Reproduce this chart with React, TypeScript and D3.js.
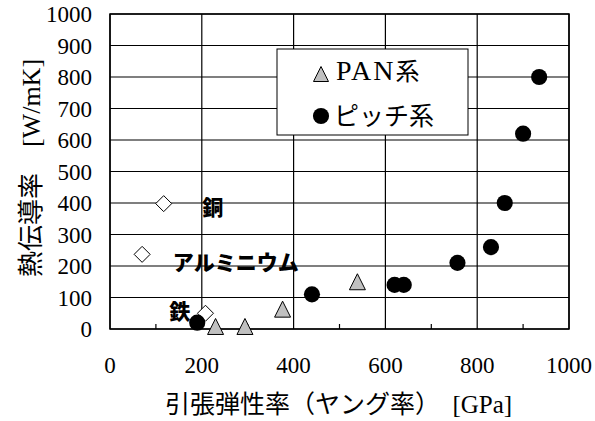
import React from "react";
import * as d3 from "d3";

const metalNames = ["銅", "アルミニウム", "鉄"];
const metalModulus = [117, 70, 208];
const metalConductivity = [398, 237, 50];
const metalLabelX = [224, 274, 152];
const metalLabelY = [384, 210, 54];

const panModulus = [230, 294, 376, 539];
const panConductivity = [8, 8, 63, 150];

const pitchModulus = [190, 440, 620, 640, 757, 830, 860, 900, 935];
const pitchConductivity = [20, 110, 140, 140, 210, 260, 400, 620, 800];

const xTicks = [0, 200, 400, 600, 800, 1000];
const xMinorTicks = [100, 300, 500, 700, 900];
const yTicks = [0, 100, 200, 300, 400, 500, 600, 700, 800, 900, 1000];

const xTitle = "引張弾性率（ヤング率）　[GPa]";
const yTitle = "熱伝導率　[W/mK]";

const W = 595;
const H = 421;
const left = 110;
const right = 569;
const top = 14;
const bottom = 329;

const serif = '"Liberation Serif", "DejaVu Serif", "Times New Roman", "Noto Sans CJK JP", serif';
const gothic = '"Noto Sans CJK JP", sans-serif';

const diamondPath = (r: number) => {
  const p = d3.path();
  p.moveTo(0, -r);
  p.lineTo(r, 0);
  p.lineTo(0, r);
  p.lineTo(-r, 0);
  p.closePath();
  return p.toString();
};
const trianglePath = (w: number, h: number) => {
  const p = d3.path();
  p.moveTo(0, -h / 2);
  p.lineTo(w / 2, h / 2);
  p.lineTo(-w / 2, h / 2);
  p.closePath();
  return p.toString();
};

export default function App() {
  const x = d3.scaleLinear().domain([0, 1000]).range([left, right]);
  const y = d3.scaleLinear().domain([0, 1000]).range([bottom, top]);

  const diamond = diamondPath(8);
  const tri = trianglePath(16, 16);
  const circle = d3.symbol().type(d3.symbolCircle).size(205)() as string;

  const serifStyle = { fontFamily: serif };
  const gothicStyle = { fontFamily: gothic, fontWeight: 900 };

  return (
    <svg
      width={W}
      height={H}
      viewBox={`0 0 ${W} ${H}`}
      style={{ position: "absolute", left: 0, top: 0, background: "#fff" }}
    >
      <rect x={0} y={0} width={W} height={H} fill="#fff" />
      {/* grid */}
      {yTicks.map((t) => (
        <line key={"gy" + t} x1={left} x2={right} y1={y(t)} y2={y(t)} stroke="#000" strokeWidth={1.2} />
      ))}
      {xTicks.map((t) => (
        <line key={"gx" + t} x1={x(t)} x2={x(t)} y1={top} y2={bottom} stroke="#000" strokeWidth={1.2} />
      ))}
      {xMinorTicks.map((t) => (
        <line key={"mx" + t} x1={x(t)} x2={x(t)} y1={bottom} y2={bottom - 5} stroke="#000" strokeWidth={1.2} />
      ))}
      <rect x={left} y={top} width={right - left} height={bottom - top} fill="none" stroke="#000" strokeWidth={1.5} />

      {/* tick labels */}
      {yTicks.map((t) => (
        <text key={"ly" + t} x={92} y={y(t)} dy="0.35em" textAnchor="end" style={serifStyle} fontSize={23}>
          {t}
        </text>
      ))}
      {xTicks.map((t) => (
        <text key={"lx" + t} x={x(t)} y={373} textAnchor="middle" style={serifStyle} fontSize={23}>
          {t}
        </text>
      ))}

      {/* axis titles */}
      <text x={x(500) - 1} y={413} textAnchor="middle" style={serifStyle} fontSize={25}>
        {xTitle}
      </text>
      <text
        transform={`translate(40, 168) rotate(-90)`}
        textAnchor="middle"
        style={serifStyle}
        fontSize={26}
      >
        {yTitle}
      </text>

      {/* metals */}
      {metalModulus.map((m, i) => (
        <path key={"m" + i} d={diamond} transform={`translate(${x(m)},${y(metalConductivity[i])})`} fill="#fff" stroke="#000" strokeWidth={1} />
      ))}
      {/* PAN */}
      {panModulus.map((m, i) => (
        <path key={"p" + i} d={tri} transform={`translate(${x(m)},${y(panConductivity[i])})`} fill="#c0c0c0" stroke="#000" strokeWidth={1} />
      ))}
      {/* pitch */}
      {pitchModulus.map((m, i) => (
        <path key={"c" + i} d={circle} transform={`translate(${x(m)},${y(pitchConductivity[i])})`} fill="#000" />
      ))}

      {/* metal labels */}
      {metalNames.map((n, i) => (
        <text
          key={"n" + i}
          x={x(metalLabelX[i])}
          y={y(metalLabelY[i])}
          dy="0.35em"
          textAnchor="middle"
          style={gothicStyle}
          fontSize={21}
        >
          {n}
        </text>
      ))}

      {/* legend */}
      <rect x={277} y={49} width={191} height={86} fill="#fff" stroke="#000" strokeWidth={1} />
      <path d={trianglePath(15, 15)} transform="translate(321,74)" fill="#c0c0c0" stroke="#000" strokeWidth={1} />
      <text x={336} y={74} dy="0.35em" style={serifStyle}>
        <tspan fontSize={28} letterSpacing={2}>PAN</tspan>
        <tspan fontSize={24}>系</tspan>
      </text>
      <path d={circle} transform="translate(321,116)" fill="#000" />
      <text x={334} y={116} dy="0.35em" style={serifStyle} fontSize={25}>
        ピッチ系
      </text>
    </svg>
  );
}
